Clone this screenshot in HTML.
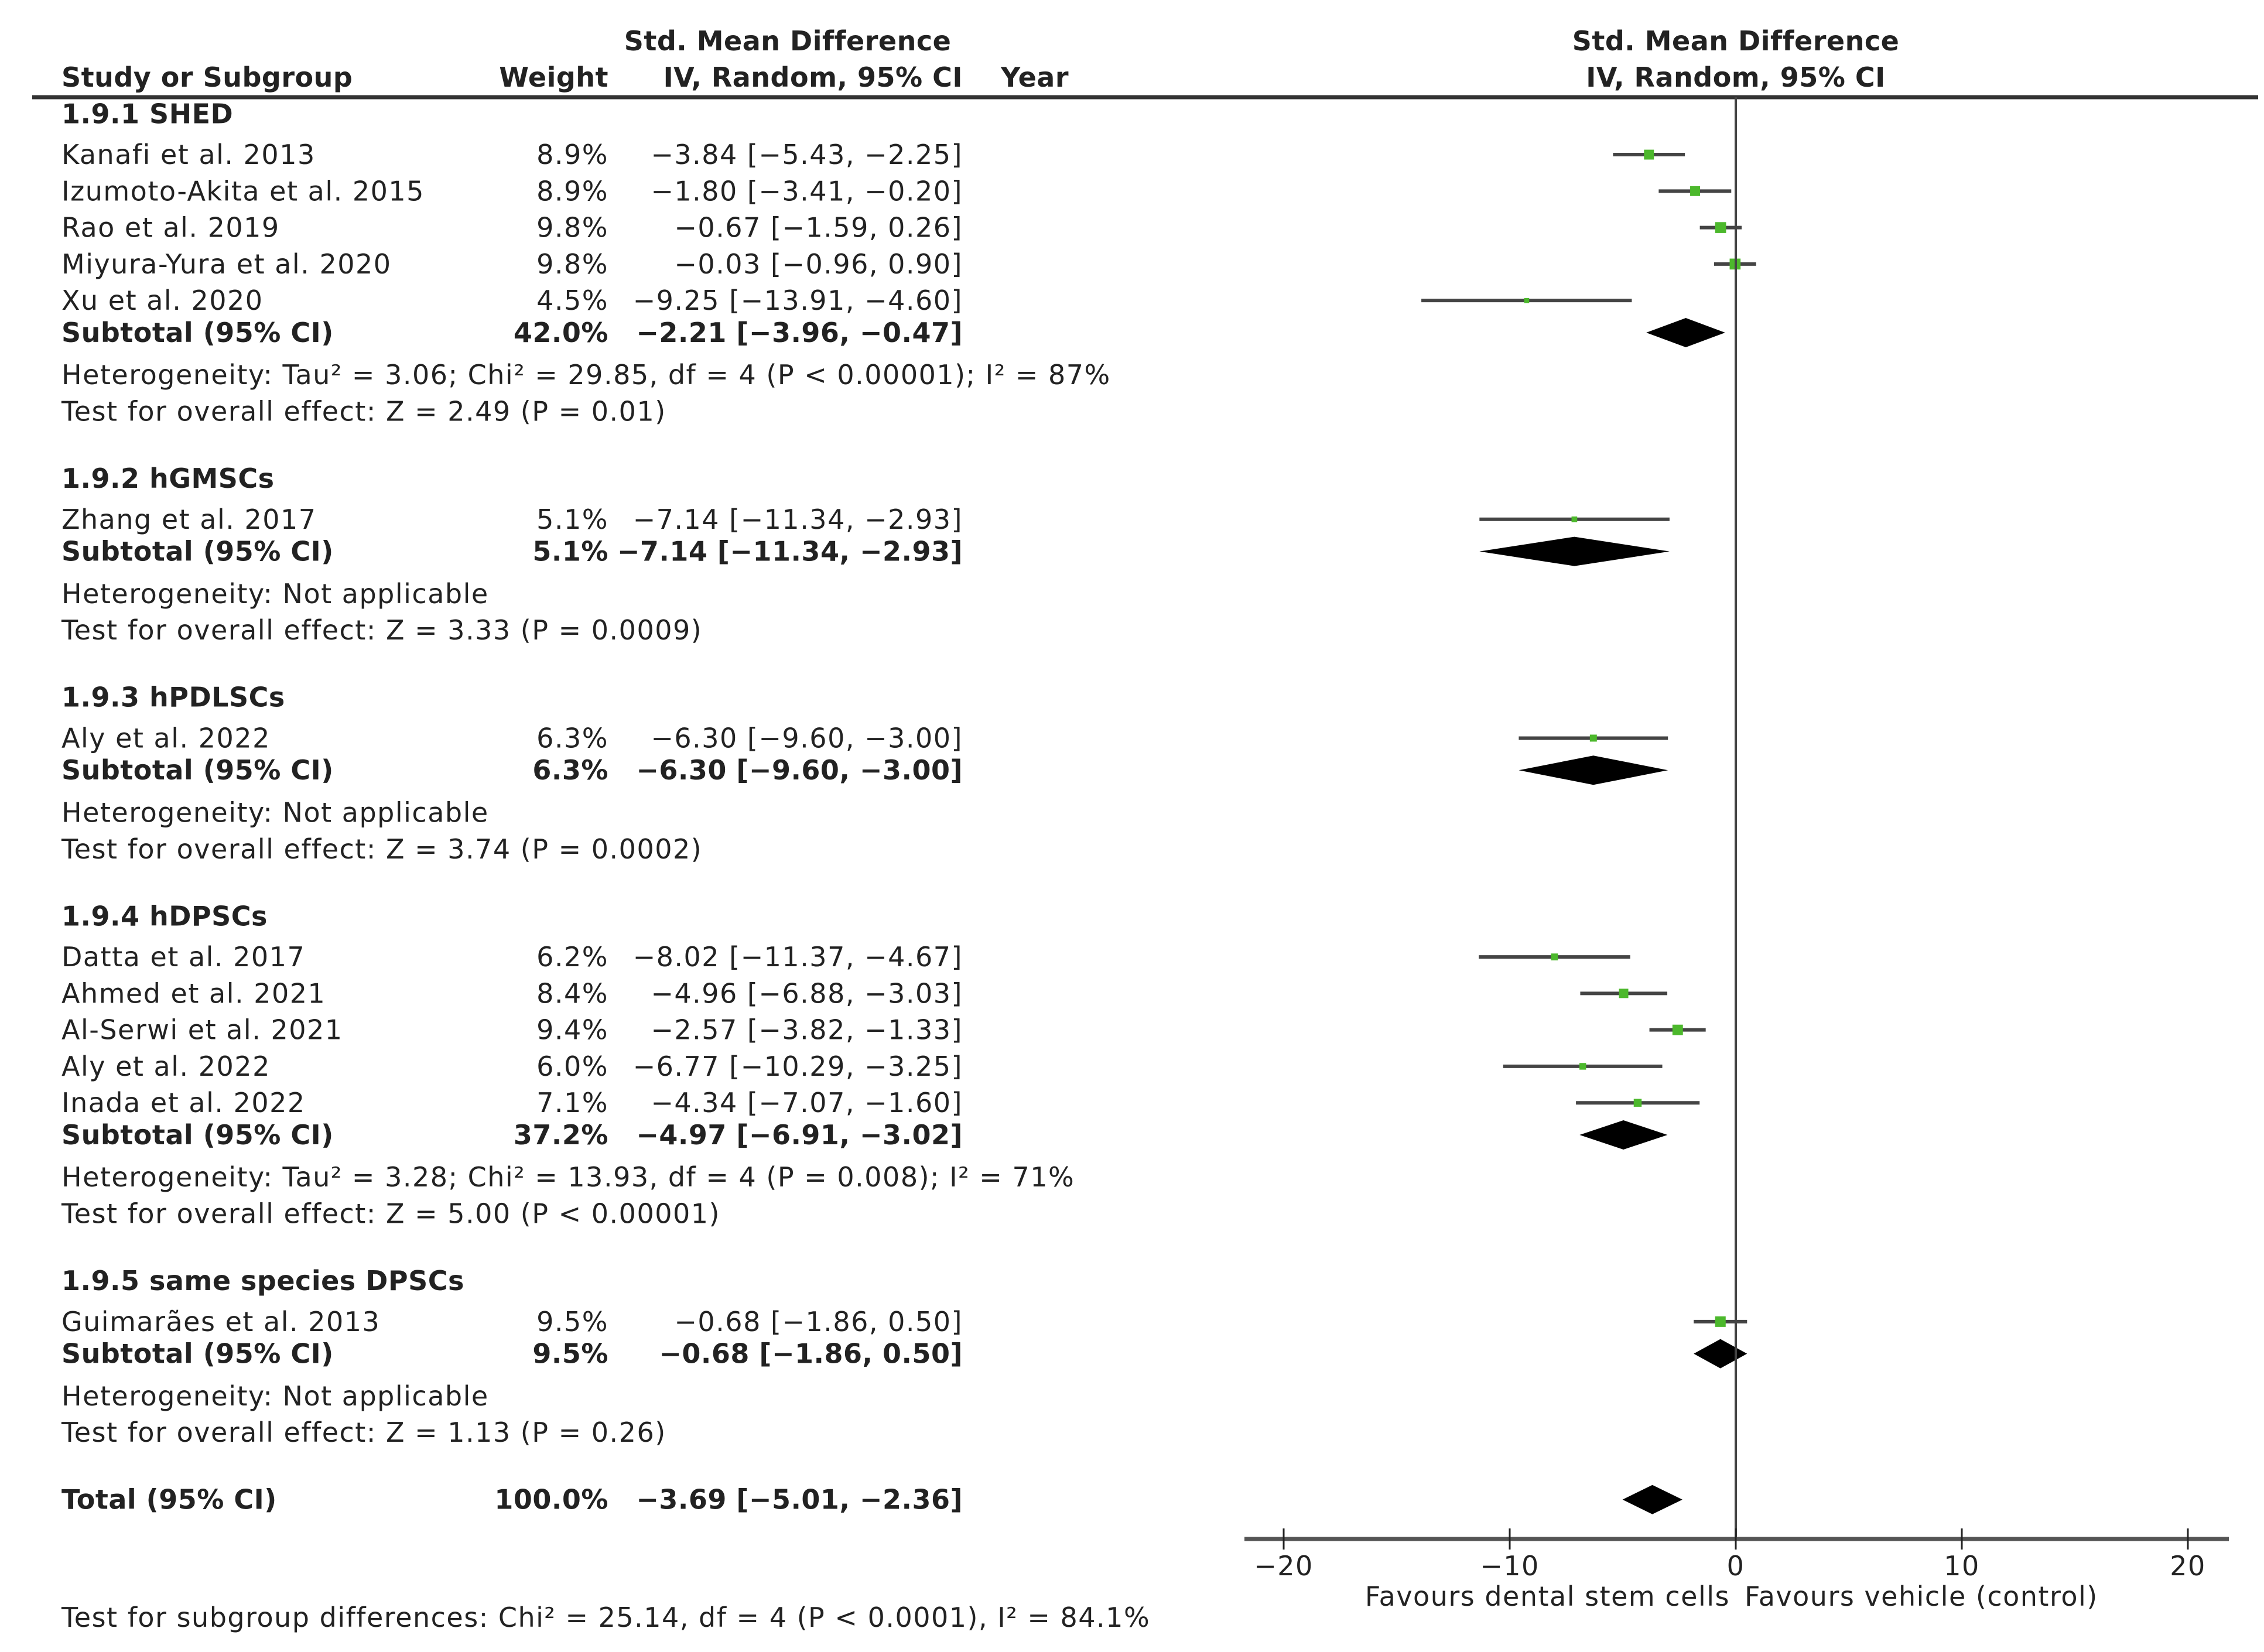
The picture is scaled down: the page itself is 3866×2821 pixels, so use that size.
<!DOCTYPE html>
<html><head><meta charset="utf-8"><style>
html,body{margin:0;padding:0;background:#fff}
svg{display:block}
text{font-family:"DejaVu Sans","Liberation Sans",sans-serif;fill:#222;font-size:46px;letter-spacing:1.5px}
.b{font-weight:bold;letter-spacing:0.5px}
</style></head><body>
<svg id="plot" width="3866" height="2821" viewBox="0 0 3866 2821" xmlns="http://www.w3.org/2000/svg">
<text class="b" x="1345" y="86" text-anchor="middle">Std. Mean Difference</text>
<text class="b" x="105" y="148">Study or Subgroup</text>
<text class="b" x="1039" y="148" text-anchor="end">Weight</text>
<text class="b" x="1644" y="148" text-anchor="end">IV, Random, 95% CI</text>
<text class="b" x="1709" y="148">Year</text>
<text class="b" x="2964" y="86" text-anchor="middle">Std. Mean Difference</text>
<text class="b" x="2964" y="148" text-anchor="middle">IV, Random, 95% CI</text>
<line x1="55" y1="166" x2="3856" y2="166" stroke="#333" stroke-width="7"/>
<g id="marks"></g>
</svg>
<script>
const studyNames=["Kanafi et al. 2013","Izumoto-Akita et al. 2015","Rao et al. 2019","Miyura-Yura et al. 2020","Xu et al. 2020","Zhang et al. 2017","Aly et al. 2022","Datta et al. 2017","Ahmed et al. 2021","Al-Serwi et al. 2021","Aly et al. 2022","Inada et al. 2022","Guimarães et al. 2013"];
const studyGroup=[0,0,0,0,0,1,2,3,3,3,3,3,4];
const studyWeight=[8.9,8.9,9.8,9.8,4.5,5.1,6.3,6.2,8.4,9.4,6.0,7.1,9.5];
const studyEst=[-3.84,-1.80,-0.67,-0.03,-9.25,-7.14,-6.30,-8.02,-4.96,-2.57,-6.77,-4.34,-0.68];
const studyLo=[-5.43,-3.41,-1.59,-0.96,-13.91,-11.34,-9.60,-11.37,-6.88,-3.82,-10.29,-7.07,-1.86];
const studyHi=[-2.25,-0.20,0.26,0.90,-4.60,-2.93,-3.00,-4.67,-3.03,-1.33,-3.25,-1.60,0.50];
const groupNames=["1.9.1 SHED","1.9.2 hGMSCs","1.9.3 hPDLSCs","1.9.4 hDPSCs","1.9.5 same species DPSCs"];
const groupWeight=["42.0%","5.1%","6.3%","37.2%","9.5%"];
const groupEst=[-2.21,-7.14,-6.30,-4.97,-0.68];
const groupLo=[-3.96,-11.34,-9.60,-6.91,-1.86];
const groupHi=[-0.47,-2.93,-3.00,-3.02,0.50];
const groupHet=["Heterogeneity: Tau² = 3.06; Chi² = 29.85, df = 4 (P < 0.00001); I² = 87%","Heterogeneity: Not applicable","Heterogeneity: Not applicable","Heterogeneity: Tau² = 3.28; Chi² = 13.93, df = 4 (P = 0.008); I² = 71%","Heterogeneity: Not applicable"];
const groupTest=["Test for overall effect: Z = 2.49 (P = 0.01)","Test for overall effect: Z = 3.33 (P = 0.0009)","Test for overall effect: Z = 3.74 (P = 0.0002)","Test for overall effect: Z = 5.00 (P < 0.00001)","Test for overall effect: Z = 1.13 (P = 0.26)"];
const totalEst=-3.69, totalLo=-5.01, totalHi=-2.36;
const xTicks=[-20,-10,0,10,20];

const svg=document.getElementById('plot');
const g=document.getElementById('marks');
const NS="http://www.w3.org/2000/svg";
const X=v=>2964+v*38.6;
const S=2.491;
function el(tag,attrs,txt){const e=document.createElementNS(NS,tag);for(const k in attrs)e.setAttribute(k,attrs[k]);if(txt!==undefined)e.textContent=txt;g.appendChild(e);return e;}
function fmt(v){return (v<0?"−":"")+Math.abs(v).toFixed(2);}
function ci(e,l,h){return fmt(e)+" ["+fmt(l)+", "+fmt(h)+"]";}
function txt(x,y,s,anchor,bold){return el('text',{x:x,y:y+16,'text-anchor':anchor||'start','class':bold?'b':''},s);}
function diamond(e,l,h,y){return el('polygon',{points:`${X(l)},${y} ${X(e)},${y-25} ${X(h)},${y} ${X(e)},${y+25}`,fill:'#000'});}

let yo=78;
for(let gi=0;gi<groupNames.length;gi++){
  let t=txt(105,yo*S,groupNames[gi],'start',true);
  
  
  yo+=28;
  for(let i=0;i<studyNames.length;i++){
    if(studyGroup[i]!==gi)continue;
    const y=yo*S;
    let a=txt(105,y,studyNames[i]);
    
    
    let b=txt(1039,y,studyWeight[i].toFixed(1)+"%",'end');
    
    
    let c=txt(1644,y,ci(studyEst[i],studyLo[i],studyHi[i]),'end');
    
    
    let ln=el('line',{x1:X(studyLo[i]),x2:X(studyHi[i]),y1:y,y2:y,stroke:'#444','stroke-width':6});
    
    
    const s=studyWeight[i]*1.9;
    let sq=el('rect',{x:X(studyEst[i])-s/2,y:y-s/2,width:s,height:s,fill:'#4cb82c'});
    
    
    yo+=25;
  }
  yo-=3;
  const ys=yo*S;
  let st=txt(105,ys,"Subtotal (95% CI)",'start',true);
  
  
  let sw=txt(1039,ys,groupWeight[gi],'end',true);
  
  
  let sc=txt(1644,ys,ci(groupEst[gi],groupLo[gi],groupHi[gi]),'end',true);
  
  
  let d=diamond(groupEst[gi],groupLo[gi],groupHi[gi],ys);
  
  
  yo+=29;
  let h=txt(105,yo*S,groupHet[gi]);
  
  
  yo+=25;
  let te=txt(105,yo*S,groupTest[gi]);
  
  
  yo+=46;
}
const yt=yo*S;
let tl=txt(105,yt,"Total (95% CI)",'start',true);


let tw=txt(1039,yt,"100.0%",'end',true);


let tc=txt(1644,yt,ci(totalEst,totalLo,totalHi),'end',true);


let td=diamond(totalEst,totalLo,totalHi,yt);



const axisY=2628;
let zl=el('line',{x1:X(0),x2:X(0),y1:166,y2:axisY,stroke:'#444','stroke-width':4});


let ax=el('line',{x1:2125,x2:3806,y1:axisY,y2:axisY,stroke:'#555','stroke-width':7});


xTicks.forEach(v=>{
  let tk=el('line',{x1:X(v),x2:X(v),y1:axisY-18,y2:axisY+18,stroke:'#222','stroke-width':3});
  
  
  let lb=el('text',{x:X(v),y:2690,'text-anchor':'middle'},v<0?"−"+Math.abs(v):String(v));
  
  
});
let f1=el('text',{x:X(0)-10,y:2742,'text-anchor':'end'},"Favours dental stem cells");


let f2=el('text',{x:X(0)+15,y:2742,'text-anchor':'start'},"Favours vehicle (control)");


let sg=el('text',{x:105,y:2778},"Test for subgroup differences: Chi² = 25.14, df = 4 (P < 0.0001), I² = 84.1%");


</script>
</body></html>
